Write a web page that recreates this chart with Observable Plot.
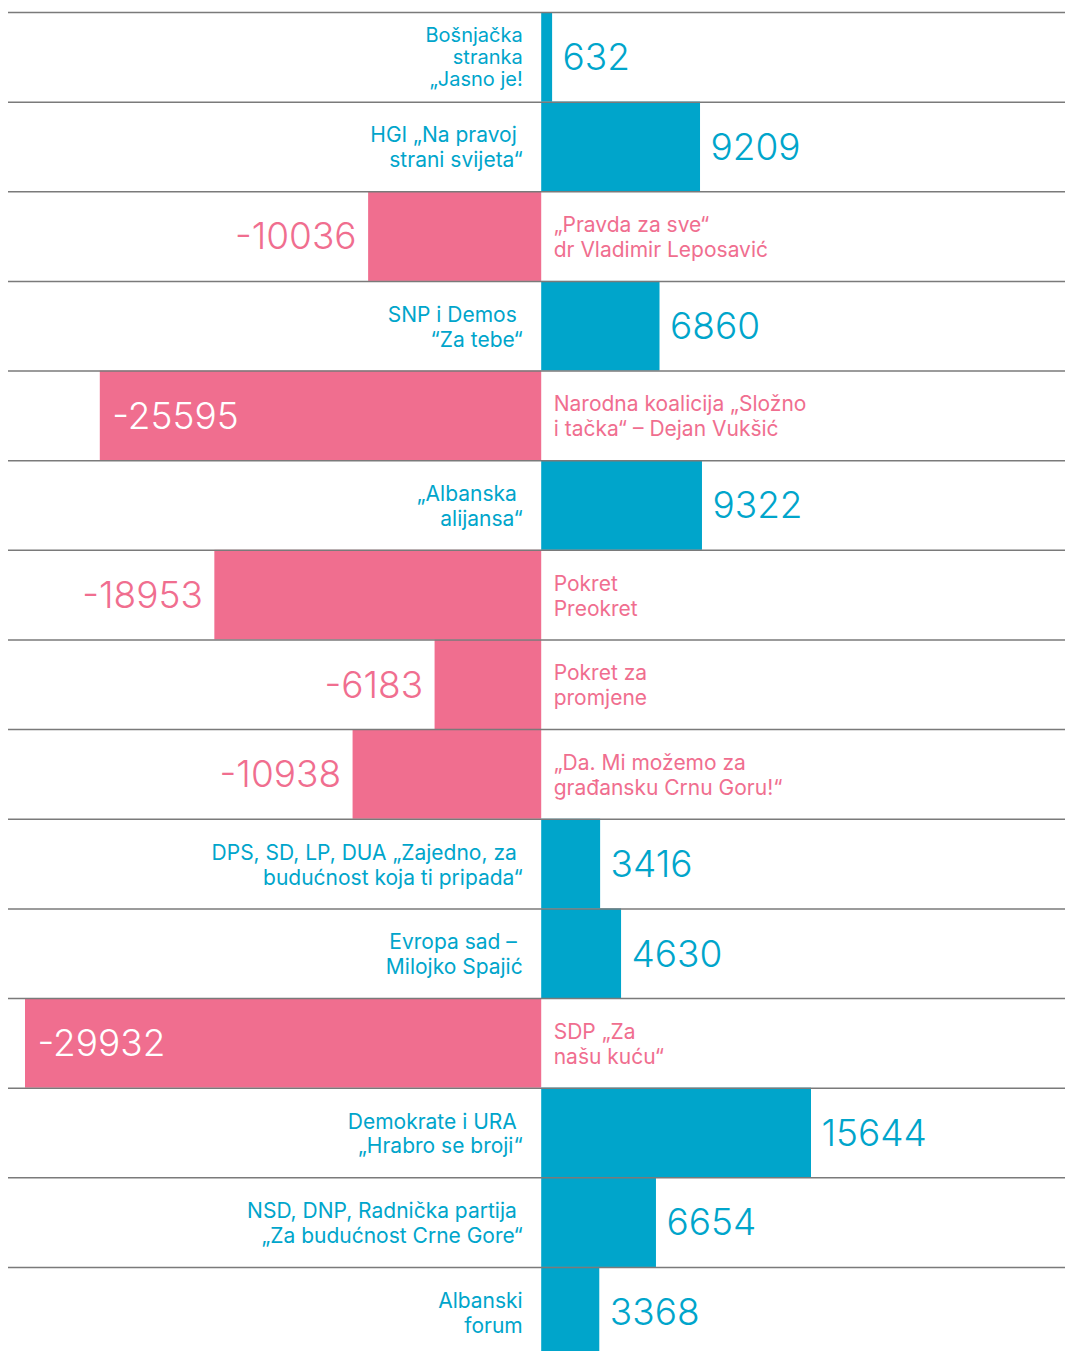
<!DOCTYPE html>
<html><head><meta charset="utf-8">
<script src="https://cdn.jsdelivr.net/npm/d3@7"></script>
<script src="https://cdn.jsdelivr.net/npm/@observablehq/plot@0.6"></script>
<style>body{margin:0;background:#fff} svg{display:block}</style>
</head><body><div id="chart"></div>
<script>
const parties = [
  "Bošnjačka\nstranka\n„Jasno je!",
  "HGI „Na pravoj\u00A0\nstrani svijeta“",
  "„Pravda za sve“\ndr Vladimir Leposavić",
  "SNP i Demos\u00A0\n“Za tebe“",
  "Narodna koalicija „Složno\ni tačka“ – Dejan Vukšić",
  "„Albanska\u00A0\nalijansa“",
  "Pokret\nPreokret",
  "Pokret za\npromjene",
  "„Da. Mi možemo za\ngrađansku Crnu Goru!“",
  "DPS, SD, LP, DUA „Zajedno, za\u00A0\nbudućnost koja ti pripada“",
  "Evropa sad –\u00A0\nMilojko Spajić",
  "SDP „Za\nnašu kuću“",
  "Demokrate i URA\u00A0\n„Hrabro se broji“",
  "NSD, DNP, Radnička partija\u00A0\n„Za budućnost Crne Gore“",
  "Albanski\nforum"
];
const votes = [632, 9209, -10036, 6860, -25595, 9322, -18953, -6183, -10938, 3416, 4630, -29932, 15644, 6654, 3368];

const BLUE = "#00a5cb", PINK = "#f06e8f";
const rows = parties.map((p, i) => ({i, party: p, value: votes[i], lines: p.split("\n").length}));
const pos = rows.filter(d => d.value > 0);
const neg = rows.filter(d => d.value < 0);
const negIn = neg.filter(d => d.value < -20000);
const negOut = neg.filter(d => d.value >= -20000);
const mid = d => d.i + 0.5;

const chart = Plot.plot({
  width: 1065, height: 1351,
  marginLeft: 8, marginRight: 0, marginTop: 0, marginBottom: 0,
  x: {domain: [-29932, 15644], range: [25, 811], axis: null},
  y: {domain: [0, 15], range: [12, 12 + 15 * 89.64], axis: null},
  style: {fontFamily: "Inter, 'Noto Sans', sans-serif", background: "#fff"},
  marks: [
    Plot.rect(rows, {x1: 0, x2: "value", y1: "i", y2: d => d.i + 1, fill: d => d.value > 0 ? BLUE : PINK}),
    Plot.ruleY(d3.range(15), {stroke: "#7a7a7a", strokeWidth: 1.5}),
    // value labels
    Plot.text(pos, {x: "value", y: mid, text: d => String(d.value), textAnchor: "start", dx: 10, dy: 1, fill: BLUE, fontSize: 37, fontWeight: 300}),
    Plot.text(negOut, {x: "value", y: mid, text: d => String(d.value), textAnchor: "end", dx: -12, dy: 1, fill: PINK, fontSize: 37, fontWeight: 300}),
    Plot.text(negIn, {x: "value", y: mid, text: d => String(d.value), textAnchor: "start", dx: 12, dy: 1, fill: "#fff", fontSize: 37, fontWeight: 300}),
    // party labels
    Plot.text(pos.filter(d => d.lines < 3), {x: 0, y: mid, text: "party", textAnchor: "end", dx: -19, fill: BLUE, fontSize: 21, lineHeight: 1.19}),
    Plot.text(pos.filter(d => d.lines >= 3), {x: 0, y: mid, text: "party", textAnchor: "end", dx: -19, fill: BLUE, fontSize: 20, lineHeight: 1.1}),
    Plot.text(neg, {x: 0, y: mid, text: "party", textAnchor: "start", dx: 12, fill: PINK, fontSize: 21, lineHeight: 1.19})
  ]
});
document.getElementById("chart").append(chart);
</script>
</body></html>
